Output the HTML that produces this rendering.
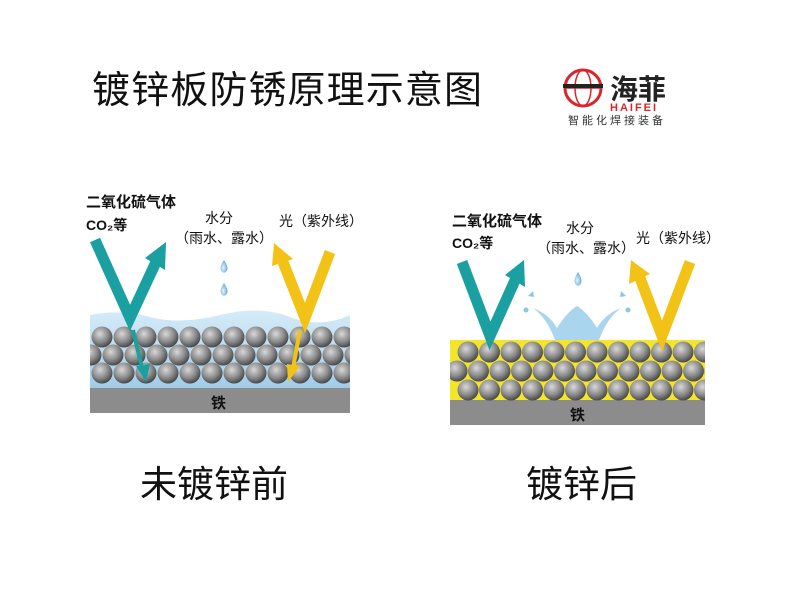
<!DOCTYPE html>
<html><head><meta charset="utf-8"><style>
html,body{margin:0;padding:0;background:#fff;}
svg{display:block;}
text{font-family:"Liberation Sans","Noto Sans CJK SC",sans-serif;}
</style></head><body>
<svg width="800" height="600" viewBox="0 0 800 600" xmlns="http://www.w3.org/2000/svg">
<defs>
<radialGradient id="sp" cx="0.4" cy="0.35" r="0.65">
<stop offset="0" stop-color="#d8d8d8"/><stop offset="0.6" stop-color="#8a8a8a"/><stop offset="1" stop-color="#4a4a4a"/>
</radialGradient>
<linearGradient id="wat" x1="0" y1="0" x2="0" y2="1">
<stop offset="0" stop-color="#d6ecf8"/><stop offset="1" stop-color="#9fcbe8"/>
</linearGradient>
<radialGradient id="drop" cx="0.4" cy="0.6" r="0.6"><stop offset="0" stop-color="#e8f5fc"/><stop offset="1" stop-color="#5ea9d6"/></radialGradient>
<clipPath id="cl"><rect x="90" y="315" width="260" height="75"/></clipPath>
<clipPath id="cr"><rect x="450" y="340" width="255" height="62"/></clipPath>
</defs>

<text x="92" y="103" font-size="38" fill="#111" textLength="390" lengthAdjust="spacing">镀锌板防锈原理示意图</text>

<!-- logo -->
<g>
<circle cx="583" cy="88" r="18" fill="none" stroke="#d9262a" stroke-width="3"/>
<ellipse cx="583" cy="88" rx="8" ry="18" fill="none" stroke="#d9262a" stroke-width="1.5"/>
<line x1="565" y1="88" x2="601" y2="88" stroke="#d9262a" stroke-width="1.5"/>
<rect x="563" y="84" width="40" height="4" fill="#222"/>
<text x="610" y="99" font-size="28" font-weight="bold" fill="#222">海菲</text>
<text x="610" y="111" font-size="11" font-weight="bold" fill="#d9262a" letter-spacing="2">HAIFEI</text>
<text x="568" y="124" font-size="11" fill="#333" letter-spacing="3">智能化焊接装备</text>
</g>

<!-- LEFT PANEL -->
<text x="86" y="207" font-size="15" font-weight="bold" fill="#111">二氧化硫气体</text>
<text x="86" y="230" font-size="14" font-weight="bold" fill="#111">CO₂等</text>
<text x="205" y="223" font-size="14" fill="#111">水分</text>
<text x="175" y="243" font-size="14" fill="#111">（雨水、露水）</text>
<text x="279" y="226" font-size="14" fill="#111">光（紫外线）</text>
<path d="M224 260 q-7 10 0 13 q7 -3 0 -13z" fill="url(#drop)"/>
<path d="M224 283 q-7 10 0 13 q7 -3 0 -13z" fill="url(#drop)"/>

<path d="M90 315 q30 -6 60 2 t70 -2 t70 2 t60 -2 V390 H90z" fill="url(#wat)"/>
<g clip-path="url(#cl)">
<g id="rowL">
</g>
</g>
<rect x="90" y="388" width="260" height="25" fill="#8c8c8c"/>
<text x="211" y="408" font-size="15" font-weight="bold" fill="#111">铁</text>

<!-- RIGHT PANEL -->
<text x="452" y="226" font-size="15" font-weight="bold" fill="#111">二氧化硫气体</text>
<text x="452" y="248" font-size="14" font-weight="bold" fill="#111">CO₂等</text>
<text x="566" y="233" font-size="14" fill="#111">水分</text>
<text x="537" y="253" font-size="14" fill="#111">（雨水、露水）</text>
<text x="636" y="243" font-size="14" fill="#111">光（紫外线）</text>
<path d="M578 272 q-7 11 0 14 q7 -3 0 -14z" fill="url(#drop)"/>
<path d="M555 340 q-8 -22 -22 -32 q16 6 24 20 q10 -16 20 -22 q10 6 20 22 q8 -14 24 -20 q-14 10 -22 32z" fill="#a9d5ef"/>
<path d="M528 296 l5 -5 l1 6z" fill="#8cc6e8"/><circle cx="526" cy="310" r="2.5" fill="#8cc6e8"/>
<path d="M626 296 l-5 -5 l-1 6z" fill="#8cc6e8"/><circle cx="628" cy="310" r="2.5" fill="#8cc6e8"/>
<rect x="450" y="340" width="255" height="62" fill="#f3e52a"/>
<rect x="450" y="400" width="255" height="25" fill="#8c8c8c"/>
<text x="570" y="420" font-size="15" font-weight="bold" fill="#111">铁</text>

<g id="spheres"></g>

<!-- arrows left -->
<polyline points="95,240 130,318 156,262" fill="none" stroke="#1aa0a0" stroke-width="11" stroke-linejoin="miter"/>
<polygon points="145,258 166,242 165,270" fill="#1aa0a0"/>
<polyline points="330,252 305,318 283,262" fill="none" stroke="#f2c316" stroke-width="11"/>
<polygon points="272,266 274,243 293,259" fill="#f2c316"/>
<line x1="133" y1="330" x2="142" y2="368" stroke="#1aa0a0" stroke-width="4"/>
<polygon points="136,366 150,364 146,382" fill="#1aa0a0"/>
<line x1="300" y1="330" x2="293" y2="368" stroke="#f2c316" stroke-width="4"/>
<polygon points="287,364 300,366 288,382" fill="#f2c316"/>

<polyline points="462,262 490,336 516,278" fill="none" stroke="#1aa0a0" stroke-width="11"/>
<polygon points="505,275 524,260 525,287" fill="#1aa0a0"/>
<polyline points="690,262 662,336 640,278" fill="none" stroke="#f2c316" stroke-width="11"/>
<polygon points="629,284 631,260 650,274" fill="#f2c316"/>

<text x="140" y="497" font-size="37" fill="#111">未镀锌前</text>
<text x="526" y="497" font-size="37" fill="#111">镀锌后</text>
</svg>
<script>
(function(){
 var ns="http://www.w3.org/2000/svg";
 function row(g,x0,x1,y,dx){for(var x=x0;x<=x1;x+=dx){var c=document.createElementNS(ns,"circle");c.setAttribute("cx",x);c.setAttribute("cy",y);c.setAttribute("r",10.5);c.setAttribute("fill","url(#sp)");g.appendChild(c);}}
 var gl=document.getElementById("rowL");
 row(gl,102,360,337,22);row(gl,91,360,355,22);row(gl,102,360,373,22);
 var gr=document.createElementNS(ns,"g");gr.setAttribute("clip-path","url(#cr)");
 document.getElementById("spheres").appendChild(gr);
 row(gr,468,720,352,21.5);row(gr,457,720,371,21.5);row(gr,468,720,390,21.5);
})();
</script>
</body></html>
